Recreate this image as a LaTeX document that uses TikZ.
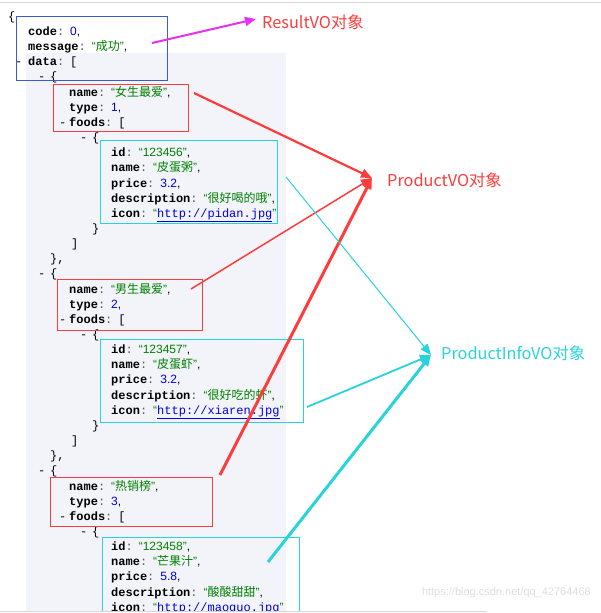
\documentclass[tikz,border=0pt]{standalone}
\usepackage{fontspec}
\usetikzlibrary{arrows.meta}
\setmainfont{Liberation Sans}
\newfontfamily\cjk{Noto Sans CJK SC}
\newfontfamily\keyf{Liberation Mono}
\definecolor{panel}{RGB}{243,244,250}
\definecolor{bluebox}{RGB}{60,90,210}
\definecolor{redc}{RGB}{255,60,60}
\definecolor{cyanc}{RGB}{40,212,218}
\definecolor{magc}{RGB}{230,50,240}
\definecolor{jgreen}{RGB}{0,128,0}
\definecolor{jblue}{RGB}{0,0,230}
\definecolor{colonc}{RGB}{90,90,90}
\definecolor{wm}{RGB}{222,222,222}
\definecolor{rulec}{RGB}{215,215,215}
\newcommand\Ky[1]{{\keyf\bfseries #1}{\keyf\color{colonc}:}\hspace{6pt}}
\newcommand\Sc[1]{{\color{jgreen}“{\cjk #1}”}}
\newcommand\Sd[1]{{\color{jgreen}“#1”}}
\newcommand\Nv[1]{{\color{jblue}#1}}
\newcommand\Uv[1]{{\color{jgreen}“}{\keyf\color{jblue}\underline{#1}}{\color{jgreen}”}}
\newcommand\Ds[1]{\makebox[#1][l]{\keyf -}}
\newcommand\Ln[4]{\node[codeline] (#1) at (#2,{35.5+15.15*(#3)}) {#4};}
\tikzset{
  codeline/.style={anchor=base west, inner sep=0pt, font=\fontsize{12}{12}\selectfont},
  boxb/.style={draw, line width=1pt, anchor=north west, inner sep=0pt},
  lbl/.style={anchor=west, inner sep=0pt, font=\cjk\fontsize{16.3}{16.3}\selectfont},
  tipR/.style={-{Triangle[length=11pt,width=9pt]}},
}
\begin{document}
\begin{tikzpicture}[x=1pt,y=-1pt]
\useasboundingbox (0,0) rectangle (601,613);
\clip (0,0) rectangle (601,613);
\fill[white] (0,0) rectangle (601,613);
\fill[panel] (26,53) rectangle (286,611);
% code text
\Ln{l00}{8}{-1}{\keyf\{}
\Ln{l01}{28}{0}{\Ky{code}\Nv{0},}
\Ln{l02}{28}{1}{\Ky{message}\Sc{成功},}
\Ln{l03}{15}{2}{\Ds{13pt}\Ky{data}{\keyf[}}
\Ln{l04}{38}{3}{\Ds{12pt}{\keyf\{}}
\Ln{l05}{69}{4}{\Ky{name}\Sc{女生最爱},}
\Ln{l06}{69}{5}{\Ky{type}\Nv{1},}
\Ln{l07}{59}{6}{\Ds{10pt}\Ky{foods}{\keyf[}}
\Ln{l08}{80}{7}{\Ds{12pt}{\keyf\{}}
\Ln{l09}{111}{8}{\Ky{id}\Sd{123456},}
\Ln{l10}{111}{9}{\Ky{name}\Sc{皮蛋粥},}
\Ln{l11}{111}{10}{\Ky{price}\Nv{3.2},}
\Ln{l12}{111}{11}{\Ky{description}\Sc{很好喝的哦},}
\Ln{l13}{111}{12}{\Ky{icon}\Uv{http://pidan.jpg}}
\Ln{l14}{92}{13}{\keyf\}}
\Ln{l15}{71}{14}{\keyf]}
\Ln{l16}{50}{15}{\keyf\},}
\Ln{l17}{38}{16}{\Ds{12pt}{\keyf\{}}
\Ln{l18}{69}{17}{\Ky{name}\Sc{男生最爱},}
\Ln{l19}{69}{18}{\Ky{type}\Nv{2},}
\Ln{l20}{59}{19}{\Ds{10pt}\Ky{foods}{\keyf[}}
\Ln{l21}{80}{20}{\Ds{12pt}{\keyf\{}}
\Ln{l22}{111}{21}{\Ky{id}\Sd{123457},}
\Ln{l23}{111}{22}{\Ky{name}\Sc{皮蛋虾},}
\Ln{l24}{111}{23}{\Ky{price}\Nv{3.2},}
\Ln{l25}{111}{24}{\Ky{description}\Sc{很好吃的虾},}
\Ln{l26}{111}{25}{\Ky{icon}\Uv{http://xiaren.jpg}}
\Ln{l27}{92}{26}{\keyf\}}
\Ln{l28}{71}{27}{\keyf]}
\Ln{l29}{50}{28}{\keyf\},}
\Ln{l30}{38}{29}{\Ds{12pt}{\keyf\{}}
\Ln{l31}{69}{30}{\Ky{name}\Sc{热销榜},}
\Ln{l32}{69}{31}{\Ky{type}\Nv{3},}
\Ln{l33}{59}{32}{\Ds{10pt}\Ky{foods}{\keyf[}}
\Ln{l34}{80}{33}{\Ds{12pt}{\keyf\{}}
\Ln{l35}{111}{34}{\Ky{id}\Sd{123458},}
\Ln{l36}{111}{35}{\Ky{name}\Sc{芒果汁},}
\Ln{l37}{111}{36}{\Ky{price}\Nv{5.8},}
\Ln{l38}{111}{37}{\Ky{description}\Sc{酸酸甜甜},}
\Ln{l39}{111}{38}{\Ky{icon}\Uv{http://maoguo.jpg}}
% boxes
\node[boxb, bluebox, minimum width=151pt, minimum height=64pt] (bres) at (16,16) {};
\node[boxb, redc, minimum width=135pt, minimum height=47pt] (bp1) at (53,84) {};
\node[boxb, cyanc, minimum width=177pt, minimum height=83pt] (bi1) at (100,140) {};
\node[boxb, redc, minimum width=145pt, minimum height=51pt] (bp2) at (57,279) {};
\node[boxb, cyanc, minimum width=203pt, minimum height=83pt] (bi2) at (100,339) {};
\node[boxb, redc, minimum width=162pt, minimum height=49pt] (bp3) at (50,477) {};
\node[boxb, cyanc, minimum width=197pt, minimum height=80pt] (bi3) at (102,537) {};
% labels
\node[lbl, text=redc] (lres) at (262,22) {ResultVO对象};
\node[lbl, text=redc] (lpv) at (387,180) {ProductVO对象};
\node[lbl, text=cyanc] (lpi) at (441,353) {ProductInfoVO对象};
% arrow end points
\coordinate (ms) at (152,43);
\coordinate (mt) at (256,19);
\coordinate (r1s) at (194,93);
\coordinate (r2s) at (191,289);
\coordinate (r3s) at (220,475);
\coordinate (rt) at (372,178);
\coordinate (c1s) at (286,177);
\coordinate (c2s) at (307,407);
\coordinate (c3s) at (268,562);
\coordinate (ct) at (431,355);
% connectors
\draw[magc, line width=2pt, tipR] (ms) -- (mt);
\draw[redc, line width=2.2pt, tipR] (r1s) -- (rt);
\draw[redc, line width=1.5pt, tipR] (r2s) -- (rt);
\draw[redc, line width=3pt, tipR] (r3s) -- (rt);
\draw[cyanc, line width=1pt, tipR] (c1s) -- (ct);
\draw[cyanc, line width=1.8pt, tipR] (c2s) -- (ct);
\draw[cyanc, line width=3pt, tipR] (c3s) -- (ct);
% watermark
\node[anchor=east, inner sep=0pt, text=wm, font=\fontsize{11}{11}\selectfont] (wmk) at (591,593) {https://blog.csdn.net/qq\_42764468};
% rules
\fill[white] (0,611.5) rectangle (601,613);
\draw[rulec, line width=1.5pt] (0,611.5) -- (487,611.5);
\draw[rulec, line width=1pt] (0,2.5) -- (601,2.5);
\end{tikzpicture}
\end{document}
